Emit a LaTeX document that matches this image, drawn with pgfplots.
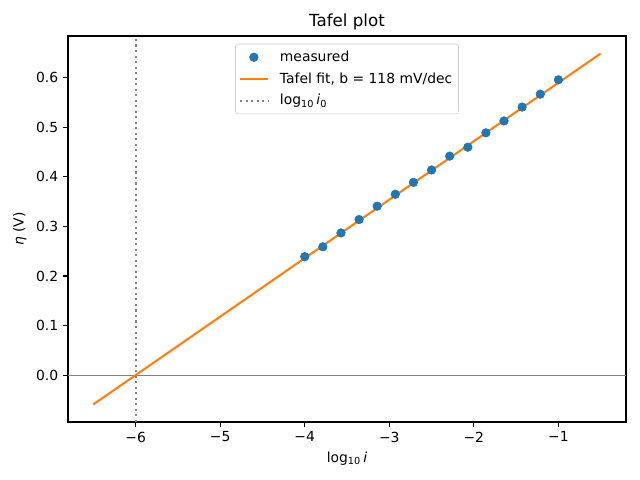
\documentclass[border=0pt]{standalone}
\usepackage{fontspec}
\setmainfont{DejaVu Sans}
\usepackage{pgfplots}
\pgfplotsset{compat=1.18}
\usetikzlibrary{calc}

\definecolor{mplblue}{HTML}{1F77B4}
\definecolor{mplorange}{HTML}{FF7F0E}

\pgfplotsset{
    mpl line legend/.style={legend image code/.code={\draw[##1] (0pt,0pt) -- (20pt,0pt);}},
    mpl mark legend/.style={legend image code/.code={\draw[##1] plot coordinates {(10pt,0pt)};}},
}

\begin{document}
\begin{tikzpicture}
\begin{axis}[
    scale only axis,
    width=401.8pt, height=277.9pt,
    xmin=-6.8, xmax=-0.2,
    ymin=-0.0944, ymax=0.6844,
    axis line style={line width=0.8pt},
    tick style={line width=0.8pt, black},
    major tick length=3.5pt,
    tick align=outside,
    xtick pos=bottom, ytick pos=left,
    xtick={-6,-5,-4,-3,-2,-1},
    xticklabels={−6,−5,−4,−3,−2,−1},
    ytick={0,0.1,0.2,0.3,0.4,0.5,0.6},
    yticklabels={0.0,0.1,0.2,0.3,0.4,0.5,0.6},
    ticklabel style={font=\fontsize{10}{12}\selectfont},
    title={Tafel plot},
    title style={font=\fontsize{12}{14}\selectfont, yshift=-5pt},
    xlabel={log\textsubscript{10}\,\textit{i}},
    ylabel={\textit{η} (V)},
    label style={font=\fontsize{10}{12}\selectfont},
    legend style={at={(0.5,0.98)}, anchor=north, draw=black!20, rounded corners=2pt,
        font=\fontsize{10}{12}\selectfont, inner xsep=2.5pt, inner ysep=3pt, row sep=2.5pt,
        /tikz/every odd column/.append style={column sep=6pt}},
    legend cell align=left,
]
\addplot[gray, line width=0.8pt, forget plot] coordinates {(-6.8,0) (-0.2,0)};
\addplot[only marks, mark=*, mark size=3.1pt, mplblue, mark options={draw=none, fill=mplblue},
    mpl mark legend] coordinates {
    (-4.000,0.239) (-3.786,0.259) (-3.571,0.287) (-3.357,0.314) (-3.143,0.341)
    (-2.929,0.365) (-2.714,0.389) (-2.500,0.414) (-2.286,0.442) (-2.071,0.460)
    (-1.857,0.489) (-1.643,0.513) (-1.429,0.541) (-1.214,0.567) (-1.000,0.596)
};
\addlegendentry{measured}
\addplot[mplorange, line width=1.5pt, mpl line legend] coordinates {(-6.5,-0.059) (-0.5,0.649)};
\addlegendentry{Tafel fit, b = 118 mV/dec}
\addplot[gray, line width=1.5pt, dash pattern=on 1.5pt off 2.475pt, mpl line legend]
    coordinates {(-6,-0.0944) (-6,0.6844)};
\addlegendentry{log\textsubscript{10}\,\textit{i}\textsubscript{0}}
\end{axis}
\pgfresetboundingbox
\path ($(current axis.south west)+(-48.96pt,-41.76pt)$) rectangle ($(current axis.north east)+(10.08pt,25.92pt)$);
\end{tikzpicture}
\end{document}
